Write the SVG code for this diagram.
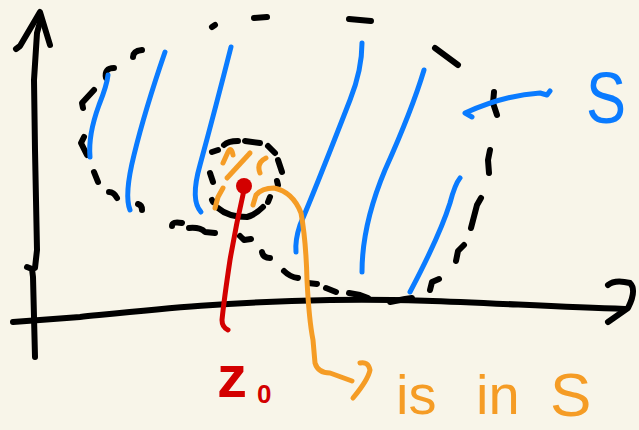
<svg xmlns="http://www.w3.org/2000/svg" width="639" height="430" viewBox="0 0 639 430">
<style>
.k{fill:none;stroke:#000;stroke-width:6;stroke-linecap:round;stroke-linejoin:round}
.b{fill:none;stroke:#0a7bff;stroke-width:5;stroke-linecap:round;stroke-linejoin:round}
.o{fill:none;stroke:#f59c25;stroke-width:5;stroke-linecap:round;stroke-linejoin:round}
.r{fill:none;stroke:#d30000;stroke-width:5;stroke-linecap:round;stroke-linejoin:round}
.lbl{font-family:"Liberation Sans",Arial,sans-serif}
</style>
<rect width="639" height="430" fill="#f8f5e9"/>
<g id="axes">
<path class="k" d="M35,357 L33,277 L32,269 L27,267"/>
<path class="k" d="M35,268 L37,250 L35,150 L34,80 L37,33 L40,22"/>
<path class="k" d="M16,49 L20,46 L40,12 L50,45"/>
<path class="k" d="M13,322 L80,317 C150,310 220,302 330,300 C430,298 520,306 625,309"/>
<path class="k" d="M608,285 Q615,279 630,283 Q637,290 628,308 L608,322"/>
</g>
<g id="set-S">
<g id="boundary">
<path class="k" d="M133,57 Q133,51 142,50"/>
<path class="k" d="M114,68 Q104,68 106,78"/>
<path class="k" d="M94,90 L82,103 L83,108"/>
<path class="k" d="M84,137 L81,143 L87,155"/>
<path class="k" d="M94,172 L98,182"/>
<path class="k" d="M109,192 Q114,192 117,198"/>
<path class="k" d="M138,204 Q142,205 142,210"/>
<path class="k" d="M172,226 Q172,221 182,223"/>
<path class="k" d="M189,228 Q200,227 205,232 L215,233"/>
<path class="k" d="M240,236 L244,240 L251,239"/>
<path class="k" d="M262,252 Q263,258 270,258"/>
<path class="k" d="M284,271 Q290,277 298,278"/>
<path class="k" d="M308,283 L317,284"/>
<path class="k" d="M326,288 L336,292"/>
<path class="k" d="M349,293 L360,295 L368,298"/>
<path class="k" d="M390,302 L405,299 L412,298"/>
<path class="k" d="M430,290 L432,282 L439,279"/>
<path class="k" d="M456,261 L458,251 L464,245"/>
<path class="k" d="M471,228 L477,205 L481,198"/>
<path class="k" d="M489,173 L488,160 L490,150"/>
<path class="k" d="M494,92 L493,103 L497,115"/>
<path class="k" d="M435,48 L458,65"/>
<path class="k" d="M349,19 L371,21"/>
<path class="k" d="M254,18 L267,17"/>
<path class="k" d="M212,27 L215,25"/>
</g>
<g id="hatching">
<path class="b" d="M108,75 Q107,85 99,105 Q88,135 90,157"/>
<path class="b" d="M165,52 Q145,110 134,155 Q124,195 130,210"/>
<path class="b" d="M231,47 Q215,110 200,165 Q190,200 201,212"/>
<path class="b" d="M362,43 Q362,70 350,100 Q315,190 300,225 Q295,240 296,252"/>
<path class="b" d="M424,70 Q412,110 385,170 Q362,225 362,272"/>
<path class="b" d="M460,178 Q455,184 450,203 Q440,235 410,292"/>
</g>
<path id="s-arrow" class="b" d="M472,117 L465,113 Q505,95 540,93 L547,95 L550,91"/>
<text class="lbl" x="586" y="123" font-size="72" fill="#0a7bff" textLength="40" lengthAdjust="spacingAndGlyphs">S</text>
</g>
<g id="neighbourhood">
<path class="k" d="M212,152 L218,150"/>
<path class="k" d="M224,145 Q228,141 238,141"/>
<path class="k" d="M245,141 L260,143"/>
<path class="k" d="M268,146 L275,153"/>
<path class="k" d="M278,160 L282,172"/>
<path class="k" d="M277,181 L278,185"/>
<path class="k" d="M270,197 L268,202"/>
<path class="k" d="M218,208 Q228,217 247,217 Q255,215 263,207"/>
<path class="k" d="M212,200 L213,202"/>
<path class="k" d="M210,173 L213,182"/>
<path class="o" d="M223,163 L228,152 Q231,146 233,155"/>
<path class="o" d="M227,178 L250,153"/>
<path class="o" d="M260,173 Q256,163 266,158"/>
<path class="o" d="M215,208 L218,197 L223,188"/>
</g>
<g id="z0">
<circle cx="244" cy="186" r="8" fill="#d30000"/>
<path class="r" d="M244,190 Q236,225 230,260 Q224,300 222,320 Q222,327 228,330"/>
<text class="lbl" x="217" y="397" font-size="60" font-weight="bold" fill="#d30000">z<tspan x="257" y="403" font-size="26">0</tspan></text>
</g>
<g id="connectors">
<path class="o" d="M253,205 L256,195 Q262,188 274,188 Q293,192 301,213 Q306,240 307,280 Q309,320 313,340 L315,363 Q318,373 330,373 L352,381"/>
<path class="o" d="M360,363 Q368,361 370,370 Q368,380 353,398"/>
</g>
<text class="lbl" y="414" font-size="56" fill="#f59c25"><tspan x="396">is</tspan><tspan x="476">in</tspan><tspan x="550" y="416" font-size="62">S</tspan></text>
</svg>
